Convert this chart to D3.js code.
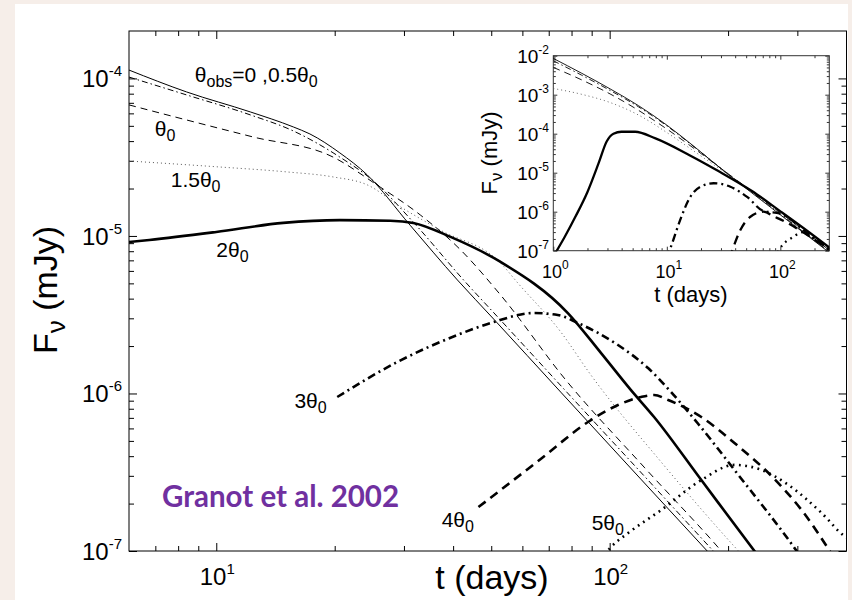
<!DOCTYPE html>
<html>
<head>
<meta charset="utf-8">
<script src="https://cdn.jsdelivr.net/npm/d3@7"></script>
<style>
  body { margin: 0; background: #f6eee9; }
  svg { display: block; font-family: "Liberation Sans", Arial, Helvetica, sans-serif; }
</style>
</head>
<body>
<script>
// ---- main panel data: [t (days), F_nu (mJy)] ----
const tDomain = [6, 400];
const fDomain = [1e-7, 2e-4];
const majorT = [10, 100];
const majorF = [1e-7, 1e-6, 1e-5, 1e-4];

const curveObs0 = [[6,1.13e-4],[8.4,8.21e-5],[12.2,6.13e-5],[15.7,4.92e-5],[17.3,4.44e-5],[20.6,3.37e-5],[24.2,2.44e-5],[31.1,1.17e-5],[41.0,5.26e-6],[50.7,2.97e-6],[75.1,1.02e-6],[120,2.86e-7],[177,1.0e-7],[200,7.2e-8]];
const curveObsHalf = [[6,1.02e-4],[8.4,7.86e-5],[12.2,5.87e-5],[15.7,4.64e-5],[20.6,3.17e-5],[24.9,2.27e-5],[32.2,1.17e-5],[42.5,5.26e-6],[52.5,2.97e-6],[77.8,1.02e-6],[124.5,2.86e-7],[183.4,1e-7],[207,7.2e-8]];
const curveObs1 = [[6,6.79e-5],[8.4,5.45e-5],[12.4,4.25e-5],[19.8,3.17e-5],[25.6,2.11e-5],[33.0,1.36e-5],[41.8,8.15e-6],[52.8,4.22e-6],[77.3,1.22e-6],[122.3,3.41e-7],[192.2,1e-7],[215,7.2e-8]];
const curveObs15 = [[6,2.99e-5],[10.2,2.74e-5],[15.1,2.55e-5],[19.8,2.37e-5],[24.2,2.11e-5],[29.4,1.53e-5],[37.1,1.09e-5],[52.8,6.74e-6],[58.4,5.03e-6],[75.1,2.46e-6],[89.6,1.31e-6],[135.2,3.67e-7],[212.5,1e-7],[240,7.2e-8]];
const curveObs2 = [[6,9.16e-6],[6.76,9.43e-6],[10,1.06e-5],[14.8,1.21e-5],[20.6,1.26e-5],[27.7,1.25e-5],[31.7,1.21e-5],[39.4,9.86e-6],[52.8,6.84e-6],[78.3,3.24e-6],[95.0,1.81e-6],[113.3,1.05e-6],[129.7,7.09e-7],[171,2.82e-7],[233.4,1e-7],[260,7.0e-8]];
const curveObs3 = [[20.3,9.50e-7],[28.8,1.58e-6],[41.0,2.35e-6],[50.7,2.84e-6],[64.1,3.24e-6],[73.8,3.15e-6],[83.1,2.80e-6],[105.0,2.03e-6],[125.2,1.45e-6],[143.3,1.02e-6],[168,6.40e-7],[207.6,3.27e-7],[298.8,1e-7],[330,7.0e-8]];
const curveObs4 = [[46.4,1.90e-7],[66.8,3.84e-7],[88.1,6.59e-7],[105.0,8.45e-7],[120.2,9.50e-7],[129.7,9.78e-7],[140.8,9.09e-7],[171,7.09e-7],[207.6,4.85e-7],[262.5,2.86e-7],[307.6,1.82e-7],[362.6,1e-7],[390,7.5e-8]];
const curveObs5 = [[97,9.5e-8],[100.8,1.06e-7],[111.4,1.30e-7],[135.2,1.82e-7],[171,2.82e-7],[207.6,3.52e-7],[243.2,3.27e-7],[285.1,2.62e-7],[346,1.74e-7],[396,1.24e-7],[400,1.22e-7]];

// ---- inset data: [log10 t, log10 F_nu] ----
const insetTDomain = [1, 270];
const insetFDomain = [1e-7, 1e-2];
const insetMajorT = [1, 10, 100];
const insetMajorF = [1e-7, 1e-6, 1e-5, 1e-4, 1e-3, 1e-2];

const insetObs0 = [[0,-2.07],[0.25,-2.45],[0.5,-2.85],[0.75,-3.28],[1.0,-3.78],[1.25,-4.35],[1.5,-4.95],[1.75,-5.52],[2.0,-6.08],[2.25,-6.64],[2.45,-7.09]];
const insetObsHalf = [[0,-2.13],[0.25,-2.50],[0.5,-2.89],[0.75,-3.31],[1.0,-3.80],[1.25,-4.36],[1.5,-4.94],[1.75,-5.50],[2.0,-6.06],[2.25,-6.62],[2.45,-7.07]];
const insetObs1 = [[0,-2.30],[0.25,-2.62],[0.5,-2.98],[0.75,-3.40],[1.0,-3.88],[1.25,-4.40],[1.5,-4.94],[1.75,-5.48],[2.0,-6.03],[2.25,-6.58],[2.45,-7.03]];
const insetObs15 = [[0,-2.84],[0.25,-2.99],[0.5,-3.20],[0.75,-3.52],[1.0,-3.97],[1.25,-4.47],[1.5,-4.97],[1.75,-5.47],[2.0,-6.0],[2.25,-6.53],[2.45,-6.98]];
const insetObs2 = [[0,-7.15],[0.1,-6.65],[0.2,-6.1],[0.3,-5.5],[0.4,-4.75],[0.47,-4.2],[0.53,-4.0],[0.6,-3.95],[0.72,-3.95],[0.9,-4.12],[1.2,-4.55],[1.45,-4.95],[1.75,-5.47],[2.0,-5.99],[2.25,-6.52],[2.45,-6.96]];
const insetObs3 = [[1.0,-7.2],[1.06,-6.7],[1.118,-6.21],[1.207,-5.62],[1.295,-5.36],[1.412,-5.27],[1.56,-5.36],[1.707,-5.62],[1.85,-5.98],[2.0,-6.05],[2.25,-6.58],[2.45,-7.0]];
const insetObs4 = [[1.55,-7.2],[1.575,-7.0],[1.648,-6.47],[1.736,-6.13],[1.853,-6.0],[1.942,-6.12],[2.05,-6.27],[2.25,-6.62],[2.45,-7.02]];
const insetObs5 = [[1.96,-7.2],[1.986,-7.0],[2.118,-6.64],[2.2,-6.52],[2.3,-6.7],[2.45,-7.0]];

// curve labels (text parts, [text, isSubscript])
const curveLabels = [
  [['θ'], ['obs', 1], ['=0 ,0.5θ'], ['0', 1]],
  [['θ'], ['0', 1]],
  [['1.5θ'], ['0', 1]],
  [['2θ'], ['0', 1]],
  [['3θ'], ['0', 1]],
  [['4θ'], ['0', 1]],
  [['5θ'], ['0', 1]]
];
const creditText = 'Granot et al. 2002';

// line styles, same order in both panels
const styles = [
  { w: 1,   dash: null },          // 0
  { w: 1,   dash: '6,3,1.5,3' },   // 0.5 theta0
  { w: 1,   dash: '7,5' },         // theta0
  { w: 1,   dash: '1,3', c: '#555' }, // 1.5 theta0
  { w: 2.6, dash: null },          // 2 theta0
  { w: 2.6, dash: '8,4,2,4' },     // 3 theta0
  { w: 2.6, dash: '9,6' },         // 4 theta0
  { w: 2.6, dash: '1.8,4.5' }      // 5 theta0
];

const W = 852, H = 600;
const svg = d3.select('body').append('svg').attr('width', W).attr('height', H);

svg.append('rect').attr('width', W).attr('height', H).attr('fill', '#f6eee9');
svg.append('rect').attr('x', 15).attr('y', 4).attr('width', 833).attr('height', 596).attr('fill', '#fff');

// rich text helper (sub/superscripts as tspans)
function rich(sel, parts, fs, sfs, shift) {
  let cur = 0;
  parts.forEach(p => {
    const want = p[1] ? shift : 0;
    sel.append('tspan').attr('dy', want - cur).attr('font-size', p[1] ? sfs : fs).text(p[0]);
    cur = want;
  });
  return sel;
}

function minorTicks(domain) {
  const out = [];
  for (let e = Math.floor(Math.log10(domain[0])); e <= Math.ceil(Math.log10(domain[1])); e++) {
    for (let k = 2; k <= 9; k++) {
      const v = k * Math.pow(10, e);
      if (v > domain[0] * 1.001 && v < domain[1] * 0.999) out.push(v);
    }
  }
  return out;
}

function tickSet(g, axisFn, scale, vals, size, tx, ty) {
  g.append('g').attr('transform', `translate(${tx},${ty})`)
    .call(axisFn(scale).tickValues(vals).tickSize(-size).tickFormat(''))
    .call(a => a.select('.domain').remove());
}

function panel(box, tDom, fDom, tMaj, fMaj, sizes) {
  const x = d3.scaleLog().domain(tDom).range([box.l, box.r]);
  const y = d3.scaleLog().domain(fDom).range([box.b, box.t]);
  const g = svg.append('g');
  g.append('rect').attr('x', box.l).attr('y', box.t).attr('width', box.r - box.l).attr('height', box.b - box.t)
    .attr('fill', '#fff').attr('stroke', sizes.frame).attr('stroke-width', 1);
  const tMin = minorTicks(tDom), fMin = minorTicks(fDom);
  tickSet(g, d3.axisBottom, x, tMaj, sizes.major, 0, box.b);
  tickSet(g, d3.axisBottom, x, tMin, sizes.minor, 0, box.b);
  tickSet(g, d3.axisTop, x, tMaj, sizes.major, 0, box.t);
  tickSet(g, d3.axisTop, x, tMin, sizes.minor, 0, box.t);
  tickSet(g, d3.axisLeft, y, fMaj, sizes.major, box.l, 0);
  tickSet(g, d3.axisLeft, y, fMin, sizes.minor, box.l, 0);
  tickSet(g, d3.axisRight, y, fMaj, sizes.major, box.r, 0);
  tickSet(g, d3.axisRight, y, fMin, sizes.minor, box.r, 0);
  g.selectAll('.tick line').attr('stroke', sizes.frame);
  return { x, y, g };
}

// ---------------- main panel ----------------
const main = panel({ l: 129, r: 846.5, t: 31, b: 551 }, tDomain, fDomain, majorT, majorF,
  { major: 8, minor: 5, frame: '#000' });

svg.append('clipPath').attr('id', 'clipMain').append('rect')
  .attr('x', 129).attr('y', 31).attr('width', 717.5).attr('height', 520);

const mainCurves = [curveObs0, curveObsHalf, curveObs1, curveObs15, curveObs2, curveObs3, curveObs4, curveObs5];
const lineMain = d3.line().x(d => main.x(d[0])).y(d => main.y(d[1])).curve(d3.curveMonotoneX);
svg.append('g').attr('clip-path', 'url(#clipMain)')
  .selectAll('path').data(mainCurves).enter().append('path')
  .attr('d', lineMain)
  .attr('fill', 'none')
  .attr('stroke', (d, i) => styles[i].c || '#000')
  .attr('stroke-width', (d, i) => styles[i].w)
  .attr('stroke-dasharray', (d, i) => styles[i].dash);

// tick labels
majorF.forEach(v => {
  const t = svg.append('text').attr('x', 122).attr('y', main.y(v) + 9).attr('text-anchor', 'end').attr('fill', '#000');
  rich(t, [['10'], [String(Math.round(Math.log10(v))), 1]], 24, 15, -11);
});
majorT.forEach(v => {
  const t = svg.append('text').attr('x', main.x(v) + 1).attr('y', 585).attr('text-anchor', 'middle').attr('fill', '#000');
  rich(t, [['10'], [String(Math.round(Math.log10(v))), 1]], 24, 15, -11);
});

svg.append('text').attr('x', 492).attr('y', 589).attr('text-anchor', 'middle')
  .attr('font-size', 34).text('t (days)');
const yl = svg.append('text').attr('transform', 'translate(57,290) rotate(-90)').attr('text-anchor', 'middle');
rich(yl, [['F'], ['ν', 1], [' (mJy)']], 34, 26, 8);

// curve labels, anchored in data coordinates
const labelAt = [[8.82, 9.5e-5], [6.98, 4.31e-5], [7.66, 2.05e-5], [10, 7.36e-6], [15.8, 8.1e-7], [37.4, 1.42e-7], [90, 1.36e-7]];
curveLabels.forEach((parts, i) => {
  const t = svg.append('text').attr('x', main.x(labelAt[i][0])).attr('y', main.y(labelAt[i][1])).attr('fill', '#000');
  rich(t, parts, 21, 16, 5);
});

svg.append('text').attr('x', 162).attr('y', 507)
  .attr('font-family', 'Lato, "Open Sans", sans-serif').attr('font-weight', 700)
  .attr('font-size', 29.5).attr('fill', '#7030a0').text(creditText);

// ---------------- inset ----------------
const inset = panel({ l: 553.3, r: 829.3, t: 55.7, b: 250.7 }, insetTDomain, insetFDomain, insetMajorT, insetMajorF,
  { major: 4, minor: 2.5, frame: '#333' });

svg.append('clipPath').attr('id', 'clipInset').append('rect')
  .attr('x', 553.3).attr('y', 55.7).attr('width', 276).attr('height', 195);

const insetCurves = [insetObs0, insetObsHalf, insetObs1, insetObs15, insetObs2, insetObs3, insetObs4, insetObs5];
const lineInset = d3.line().x(d => inset.x(Math.pow(10, d[0]))).y(d => inset.y(Math.pow(10, d[1]))).curve(d3.curveMonotoneX);
svg.append('g').attr('clip-path', 'url(#clipInset)')
  .selectAll('path').data(insetCurves).enter().append('path')
  .attr('d', lineInset)
  .attr('fill', 'none')
  .attr('stroke', (d, i) => styles[i].c || '#000')
  .attr('stroke-width', (d, i) => styles[i].w > 2 ? 2.3 : 0.9)
  .attr('stroke-dasharray', (d, i) => styles[i].dash);

insetMajorF.forEach(v => {
  const t = svg.append('text').attr('x', 549).attr('y', inset.y(v) + 7).attr('text-anchor', 'end');
  rich(t, [['10'], [String(Math.round(Math.log10(v))), 1]], 19, 12, -9);
});
insetMajorT.forEach(v => {
  const t = svg.append('text').attr('x', inset.x(v) + 2).attr('y', 278).attr('text-anchor', 'middle');
  rich(t, [['10'], [String(Math.round(Math.log10(v))), 1]], 18, 12, -9);
});
svg.append('text').attr('x', 691).attr('y', 302).attr('text-anchor', 'middle').attr('font-size', 22).text('t (days)');
const iyl = svg.append('text').attr('transform', 'translate(497,153) rotate(-90)').attr('text-anchor', 'middle');
rich(iyl, [['F'], ['ν', 1], [' (mJy)']], 22, 17, 5);
</script>
</body>
</html>
